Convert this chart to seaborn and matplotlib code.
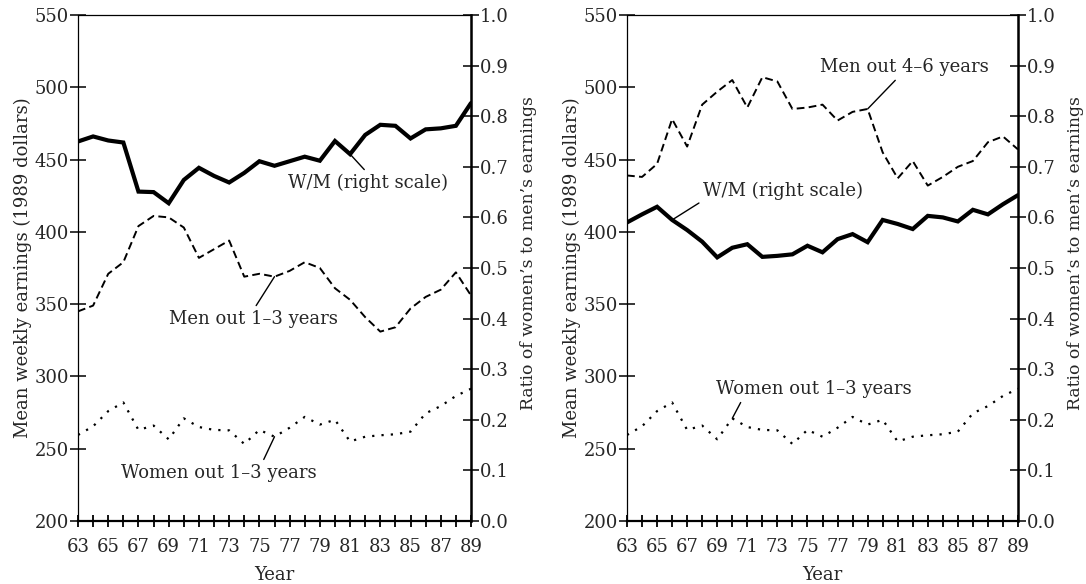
import numpy as np
import pandas as pd
import matplotlib
matplotlib.use("Agg")
import matplotlib.pyplot as plt
import seaborn as sns

# ---- data ----
years = list(range(1963, 1990))
tick_labels = [str(y % 100) if y % 2 == 1 else "" for y in years]

wm_1_3 = [0.750, 0.760, 0.752, 0.748, 0.651, 0.650, 0.628, 0.674, 0.698, 0.682,
          0.669, 0.688, 0.711, 0.702, 0.711, 0.720, 0.712, 0.751, 0.725, 0.763,
          0.783, 0.781, 0.756, 0.774, 0.776, 0.781, 0.826]
men_1_3 = [345, 349, 371, 379, 404, 411, 410, 403, 382, 388, 394, 369, 371, 369,
           373, 379, 375, 361, 353, 341, 331, 334, 347, 355, 360, 372, 356]
women_1_3 = [259.5, 265.5, 276, 282, 263, 266, 256.5, 271, 265, 263, 262.7, 253.3,
             263, 258.3, 264.5, 272, 266.7, 270, 255, 258.3, 259.3, 260, 261.8,
             274.5, 279.5, 286.5, 291.5]
wm_4_6 = [0.590, 0.606, 0.621, 0.595, 0.575, 0.552, 0.521, 0.540, 0.547, 0.522,
          0.524, 0.527, 0.544, 0.531, 0.557, 0.567, 0.551, 0.595, 0.587, 0.577,
          0.603, 0.600, 0.592, 0.615, 0.606, 0.626, 0.644]
men_4_6 = [439, 438, 447, 478, 459, 488, 497, 505, 486, 507, 504, 485, 486, 488,
           477, 483, 485, 455, 437, 449, 432, 438, 445, 449, 462, 466, 457]

left_label = "Mean weekly earnings (1989 dollars)"
right_label = "Ratio of women\u2019s to men\u2019s earnings"

sns.set_style("ticks")
plt.rcParams['font.family'] = ['DejaVu Serif', 'Liberation Serif']
plt.rcParams['mathtext.default'] = 'regular'

fig = plt.figure(figsize=(10.86, 5.84), dpi=100)
ax_l = fig.add_axes([78 / 1086, 63 / 584, 393 / 1086, 506 / 584])
ax_r = fig.add_axes([627 / 1086, 63 / 584, 391 / 1086, 506 / 584])

FS = 13
ANN = 13


def style(ax, ax2):
    ax.set_xlim(1963, 1989)
    ax.set_ylim(200, 550)
    ax2.set_ylim(0, 1.0)
    ax.set_xticks(years)
    ax.set_xticklabels(tick_labels, fontsize=FS)
    ax.set_yticks(np.arange(200, 551, 50))
    ax.set_yticklabels([str(v) for v in range(200, 551, 50)], fontsize=FS)
    ax2.set_yticks(np.round(np.arange(0, 1.01, 0.1), 1))
    ax2.set_yticklabels([f"{v:.1f}" for v in np.arange(0, 1.01, 0.1)], fontsize=FS)
    ax.tick_params(axis='x', direction='inout', length=9, width=1.3, pad=8, color='black')
    ax.tick_params(axis='y', direction='inout', length=11, width=1.1, pad=1, color='black')
    ax2.tick_params(axis='y', direction='inout', length=11, width=1.1, pad=1, color='black')
    for a in (ax, ax2):
        for s in a.spines.values():
            s.set_visible(True)
            s.set_color('black')
    ax.spines['left'].set_linewidth(0.9)
    ax.spines['top'].set_linewidth(0.9)
    ax.spines['top'].set_linestyle((0, (8, 1)))
    ax.spines['left'].set_linestyle((0, (8, 1)))
    ax.spines['bottom'].set_linewidth(1.6)
    ax2.spines['right'].set_linewidth(1.8)
    ax2.spines['left'].set_visible(False)
    ax2.spines['top'].set_visible(False)
    ax2.spines['bottom'].set_visible(False)
    ax.set_xlabel("Year", fontsize=FS, labelpad=7)
    ax.set_ylabel(left_label, fontsize=FS, labelpad=2)
    ax2.set_ylabel(right_label, fontsize=12.4)
    ax2.yaxis.set_label_coords(1.125, 0.53)
    ax.grid(False)
    ax2.grid(False)


def draw(ax, men, wm, women):
    df = pd.DataFrame({"year": years, "men": men, "women": women, "wm": wm})
    sns.lineplot(data=df, x="year", y="men", ax=ax, color='black', lw=1.4,
                 linestyle=(0, (4, 2.2)))
    sns.lineplot(data=df, x="year", y="women", ax=ax, color='black', lw=1.6,
                 linestyle=(0, (1, 3.2)))
    ax2 = ax.twinx()
    sns.lineplot(data=df, x="year", y="wm", ax=ax2, color='black', lw=3.0,
                 solid_joinstyle='miter')
    return ax2


ax2_l = draw(ax_l, men_1_3, wm_1_3, women_1_3)
ax2_r = draw(ax_r, men_4_6, wm_4_6, women_1_3)
style(ax_l, ax2_l)
style(ax_r, ax2_r)

arrow = dict(arrowstyle='-', color='black', lw=1.0, shrinkA=1, shrinkB=0)

# left panel annotations
ax2_l.annotate("W/M (right scale)", xy=(1981, wm_1_3[18]), xytext=(1982.2, 0.668),
               ha='center', va='center', fontsize=ANN,
               arrowprops=dict(arrow, relpos=(0.5, 1.0)))
ax_l.annotate("Men out 1\u20133 years", xy=(1976, men_1_3[13]), xytext=(1974.6, 339.7),
              ha='center', va='center', fontsize=ANN,
              arrowprops=dict(arrow, relpos=(0.5, 1.0)))
ax_l.annotate("Women out 1\u20133 years", xy=(1976, women_1_3[13]), xytext=(1972.3, 233.2),
              ha='center', va='center', fontsize=ANN,
              arrowprops=dict(arrow, relpos=(0.72, 1.0)))

# right panel annotations
ax_r.annotate("Men out 4\u20136 years", xy=(1979, men_4_6[16]), xytext=(1981.45, 514),
              ha='center', va='center', fontsize=ANN,
              arrowprops=dict(arrow, relpos=(0.47, 0.0)))
ax2_r.annotate("W/M (right scale)", xy=(1966, wm_4_6[3]), xytext=(1973.4, 0.652),
               ha='center', va='center', fontsize=ANN,
               arrowprops=dict(arrow, relpos=(0.0, 0.0)))
ax_r.annotate("Women out 1\u20133 years", xy=(1970, women_1_3[7]), xytext=(1975.4, 291.3),
              ha='center', va='center', fontsize=ANN,
              arrowprops=dict(arrow, relpos=(0.14, 0.0)))

fig.savefig("out.png", dpi=100)
